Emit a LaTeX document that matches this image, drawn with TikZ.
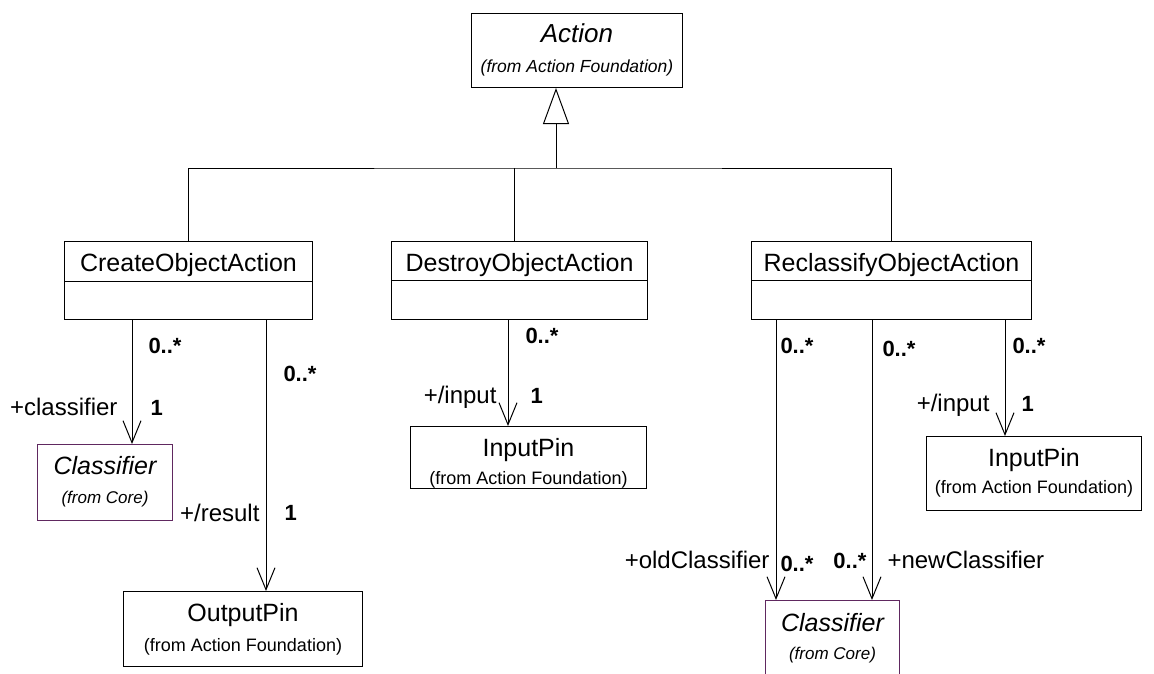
\documentclass[tikz,border=0pt]{standalone}
\usepackage{fontspec}
\setmainfont{Liberation Sans}
\usetikzlibrary{arrows.meta}
\definecolor{corepurple}{RGB}{96,40,96}
\begin{document}
\begin{tikzpicture}[x=1pt,y=-1pt,line width=1pt,
  box/.style={draw, rectangle, inner sep=0pt, anchor=north west},
  corebox/.style={box, draw=corepurple},
  title/.style={font=\fontsize{25}{29}\selectfont, inner sep=0pt, text height=17.5pt, text depth=0pt},
  sub/.style={font=\fontsize{18}{21}\selectfont, inner sep=0pt, text height=12.5pt, text depth=0pt},
  lab/.style={font=\fontsize{24}{28}\selectfont, inner sep=0pt, text height=17pt, text depth=0pt},
  mult/.style={font=\bfseries\fontsize{22}{26}\selectfont, inner sep=0pt, text height=16pt, text depth=0pt},
  assoc/.style={-{Straight Barb[length=22pt,width=18pt]}},
  gen/.style={-{Triangle[open,length=36pt,width=26pt]}}
]
\useasboundingbox (0,0) rectangle (1154,673);
\clip (0,0) rectangle (1154,673);

% ---- classes ----
\node[box, minimum width=211, minimum height=74] (action) at (471,13) {};
\node[title, font=\fontsize{26}{30}\selectfont] at ([yshift=-20.5pt]action.north) {\itshape Action};
\node[sub, font=\fontsize{17.5}{21}\selectfont] at ([yshift=-53pt]action.north) {\itshape (from Action Foundation)};

\node[box, minimum width=248, minimum height=78] (create) at (64,241) {};
\node[title] at ([yshift=-22pt]create.north) {CreateObjectAction};
\draw ([yshift=-40pt]create.north west) -- ([yshift=-40pt]create.north east);

\node[box, minimum width=256, minimum height=78] (destroy) at (391,241) {};
\node[title] at ([yshift=-22pt]destroy.north) {DestroyObjectAction};
\draw ([yshift=-39pt]destroy.north west) -- ([yshift=-39pt]destroy.north east);

\node[box, minimum width=280, minimum height=78] (reclass) at (751,241) {};
\node[title] at ([yshift=-22pt]reclass.north) {ReclassifyObjectAction};
\draw ([yshift=-39pt]reclass.north west) -- ([yshift=-39pt]reclass.north east);

\node[corebox, minimum width=135, minimum height=76] (clsL) at (37,444) {};
\node[title] at ([yshift=-22pt]clsL.north) {\itshape Classifier};
\node[sub, font=\fontsize{17}{20}\selectfont] at ([yshift=-53pt]clsL.north) {\itshape (from Core)};

\node[box, minimum width=239, minimum height=75] (outpin) at (123,591) {};
\node[title] at ([yshift=-22pt]outpin.north) {OutputPin};
\node[sub] at ([yshift=-54pt]outpin.north) {(from Action Foundation)};

\node[box, minimum width=236, minimum height=62] (inpinD) at (410,426) {};
\node[title] at ([yshift=-22pt]inpinD.north) {InputPin};
\node[sub] at ([yshift=-52pt]inpinD.north) {(from Action Foundation)};

\node[box, minimum width=215, minimum height=74] (inpinR) at (926,436) {};
\node[title] at ([yshift=-22pt]inpinR.north) {InputPin};
\node[sub] at ([yshift=-51pt]inpinR.north) {(from Action Foundation)};

\node[corebox, minimum width=134, minimum height=90] (clsR) at (765,600) {};
\node[title] at ([yshift=-23pt]clsR.north) {\itshape Classifier};
\node[sub, font=\fontsize{17}{20}\selectfont] at ([yshift=-53pt]clsR.north) {\itshape (from Core)};

% ---- generalization tree ----
\coordinate (bus) at (556,168);
\coordinate (dstem) at (514,0);
\draw[gen] (bus) -- (action.south -| bus);
\draw (create.north) |- (bus) -| (reclass.north);
\draw (destroy.north -| dstem) -- (bus -| dstem);

% ---- associations ----
\coordinate (xa) at (132,0);
\coordinate (xb) at (266,0);
\coordinate (xc) at (508,0);
\coordinate (xd) at (776,0);
\coordinate (xe) at (872,0);
\coordinate (xf) at (1005,0);
\draw[assoc] (create.south -| xa) -- (clsL.north -| xa);
\draw[assoc] (create.south -| xb) -- (outpin.north -| xb);
\draw[assoc] (destroy.south -| xc) -- (inpinD.north -| xc);
\draw[assoc] (reclass.south -| xd) -- (clsR.north -| xd);
\draw[assoc] (reclass.south -| xe) -- (clsR.north -| xe);
\draw[assoc] (reclass.south -| xf) -- (inpinR.north -| xf);

% ---- role names and multiplicities ----
\node[mult, anchor=west] at (148,345) {0..*};
\node[mult, anchor=west] at (283,373) {0..*};
\node[lab, anchor=east] at (118,407) {+classifier};
\node[mult, anchor=west] at (150,407) {1};
\node[lab, anchor=east] at (260,513) {+/result};
\node[mult, anchor=west] at (284,512) {1};

\node[mult, anchor=west] at (525,335) {0..*};
\node[lab, anchor=east] at (497,395) {+/input};
\node[mult, anchor=west] at (530,395) {1};

\node[mult, anchor=west] at (780,345) {0..*};
\node[mult, anchor=west] at (882,348) {0..*};
\node[mult, anchor=west] at (1012,345) {0..*};
\node[lab, anchor=east] at (990,403) {+/input};
\node[mult, anchor=west] at (1021,403) {1};

\node[lab, anchor=east] at (770,560) {+oldClassifier};
\node[mult, anchor=west] at (780,563) {0..*};
\node[mult, anchor=east] at (867,560) {0..*};
\node[lab, anchor=west] at (887,560) {+newClassifier};
\end{tikzpicture}
\end{document}
